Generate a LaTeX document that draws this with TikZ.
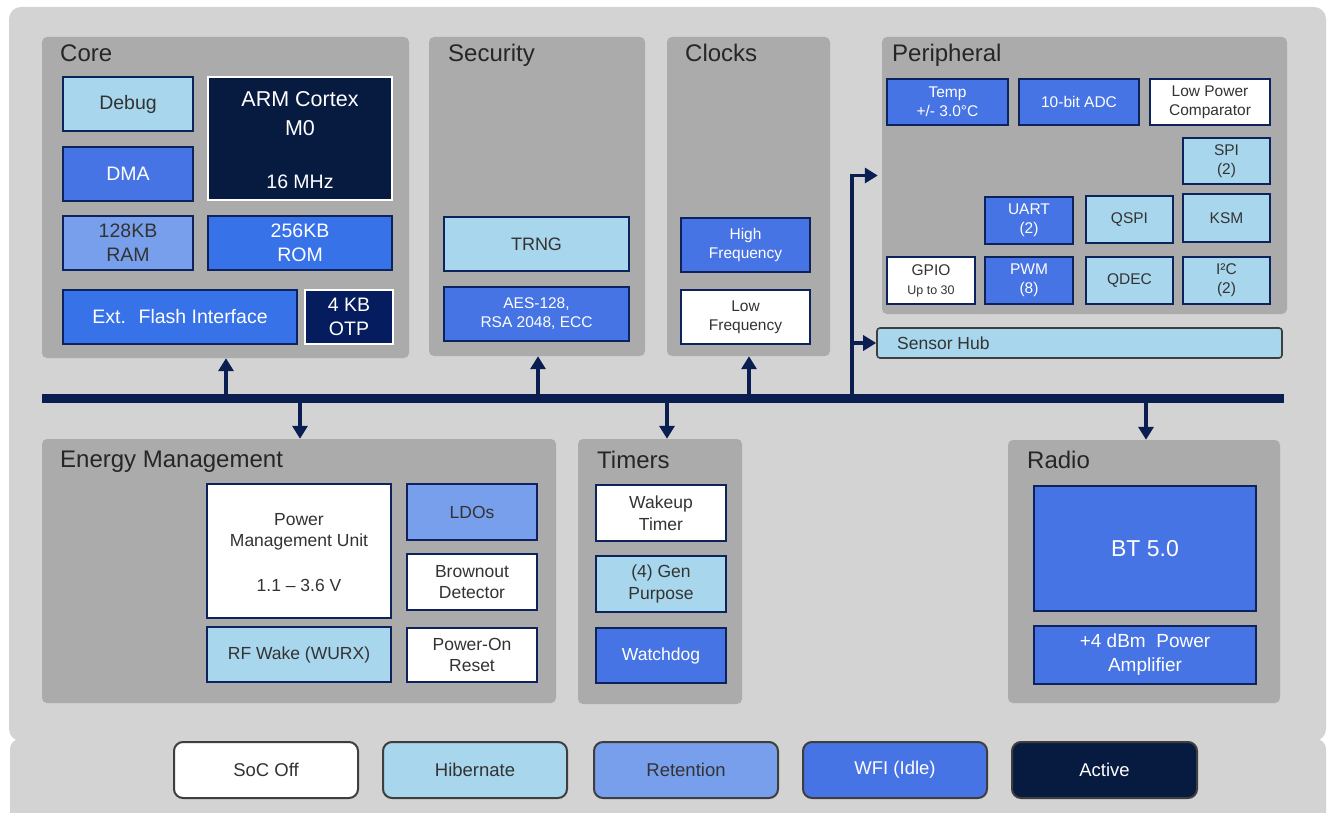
\documentclass[tikz,border=0pt]{standalone}
\usepackage{fontspec}
\setmainfont{Liberation Sans}
\usetikzlibrary{arrows.meta}
\definecolor{bglight}{RGB}{211,211,211}
\definecolor{panelgray}{RGB}{171,171,171}
\definecolor{hib}{RGB}{168,214,236}
\definecolor{ret}{RGB}{120,159,236}
\definecolor{wfi}{RGB}{71,116,228}
\definecolor{rom}{RGB}{56,114,232}
\definecolor{act}{RGB}{7,26,64}
\definecolor{otp}{RGB}{5,28,94}
\definecolor{edge}{RGB}{14,34,92}
\definecolor{busnavy}{RGB}{10,30,82}
\definecolor{legedge}{RGB}{62,62,62}
\definecolor{txtdark}{RGB}{51,51,51}
\definecolor{titletxt}{RGB}{38,38,38}
\newcommand\fA{\fontsize{19.5}{24}\selectfont}
\newcommand\fArm{\fontsize{21.5}{29}\selectfont}
\newcommand\fS{\fontsize{18}{22}\selectfont}
\newcommand\fP{\fontsize{15.5}{19}\selectfont}
\newcommand\fE{\fontsize{17.5}{21.5}\selectfont}
\newcommand\fT{\fontsize{24}{28}\selectfont}
\newcommand\fL{\fontsize{18.5}{22}\selectfont}
\newcommand\blk[7]{\node[#6, minimum width={(#4-#2)*1pt}, minimum height={(#5-#3)*1pt}] (#1) at ({(#2+#4)/2},{(#3+#5)/2}) {#7};}
\tikzset{
 panel/.style={fill=panelgray, rounded corners=5pt, inner sep=0pt},
 bx/.style={draw=edge, line width=1.7pt, inner sep=0pt, align=center, text=txtdark},
 wbx/.style={bx, text=white},
 leg/.style={draw=legedge, line width=2pt, rounded corners=9pt, inner sep=0pt, align=center, font=\fL, text=txtdark},
 conn/.style={draw=busnavy, line width=3.5pt, -{Triangle[width=15pt,length=13pt]}},
 bus/.style={draw=busnavy, line width=9pt},
 ttl/.style={anchor=base west, inner sep=0pt, text=titletxt, font=\fT},
 lbl/.style={inner sep=0pt, align=center},
}
\begin{document}
\begin{tikzpicture}[x=1pt,y=-1pt]
\useasboundingbox (0,0) rectangle (1331,813);
% background
\fill[bglight, rounded corners=12pt] (9,7) rectangle (1326,741);
\fill[bglight, rounded corners=10pt] (10,739) rectangle (1326,835);

% Core
\blk{core}{42}{37}{409}{358}{panel}{}
\node[ttl] (coret) at (60,62) {Core};
\blk{debug}{63}{77}{193}{131}{bx,fill=hib,font=\fA}{Debug}
\blk{arm}{208}{77}{392}{200}{bx,draw=white,line width=2.5pt,fill=act}{}
\node[lbl,font=\fArm,text=white] (armtxt) at (300,114) {ARM Cortex\\M0};
\node[lbl,font=\fA,text=white] (armmhz) at (300,182) {16 MHz};
\blk{dma}{63}{147}{193}{201}{wbx,fill=wfi,font=\fA}{DMA}
\blk{ram}{63}{216}{193}{270}{bx,fill=ret,font=\fA}{128KB\\RAM}
\blk{rom}{208}{216}{392}{270}{wbx,fill=rom,font=\fA}{256KB\\ROM}
\blk{flash}{63}{290}{297}{344}{wbx,fill=rom,font=\fA}{Ext.~ Flash Interface}
\blk{otp}{305}{290}{393}{344}{wbx,draw=white,line width=2.5pt,fill=otp,font=\fA}{4 KB\\OTP}

% Security
\blk{sec}{429}{37}{645}{356}{panel}{}
\node[ttl] (sect) at (448,62) {Security};
\blk{trng}{444}{217}{629}{271}{bx,fill=hib,font=\fS}{TRNG}
\blk{aes}{444}{287}{629}{341}{wbx,fill=wfi,font=\fP}{AES-128,\\RSA 2048, ECC}

% Clocks
\blk{clk}{667}{37}{830}{356}{panel}{}
\node[ttl] (clkt) at (685,62) {Clocks};
\blk{hf}{681}{218}{810}{272}{wbx,fill=wfi,font=\fP}{High\\Frequency}
\blk{lf}{681}{290}{810}{344}{bx,fill=white,font=\fP}{Low\\Frequency}

% Peripheral
\blk{periph}{882}{37}{1287}{314}{panel}{}
\node[ttl] (peripht) at (892,62) {Peripheral};
\blk{temp}{887}{79}{1008}{125}{wbx,fill=wfi,font=\fP}{Temp\\+/- 3.0°C}
\blk{adc}{1019}{79}{1139}{125}{wbx,fill=wfi,font=\fP}{10-bit ADC}
\blk{lpc}{1150}{79}{1270}{125}{bx,fill=white,font=\fP}{Low Power\\Comparator}
\blk{spi}{1183}{138}{1270}{184}{bx,fill=hib,font=\fP}{SPI\\(2)}
\blk{uart}{985}{197}{1073}{244}{wbx,fill=wfi,font=\fP}{UART\\(2)}
\blk{qspi}{1086}{196}{1173}{243}{bx,fill=hib,font=\fP}{QSPI}
\blk{ksm}{1183}{194}{1270}{242}{bx,fill=hib,font=\fP}{KSM}
\blk{gpio}{887}{257}{975}{304}{bx,fill=white,font=\fP}{GPIO\\{\fontsize{12.5}{15}\selectfont Up to 30}}
\blk{pwm}{985}{257}{1073}{304}{wbx,fill=wfi,font=\fP}{PWM\\(8)}
\blk{qdec}{1086}{257}{1173}{304}{bx,fill=hib,font=\fP}{QDEC}
\blk{iic}{1183}{257}{1270}{304}{bx,fill=hib,font=\fP}{I²C\\(2)}

% Sensor hub
\blk{hub}{877}{328}{1282}{358}{draw=legedge,line width=1.6pt,rounded corners=3pt,fill=hib,inner sep=0pt}{}
\node[anchor=base west,inner sep=0pt,font=\fontsize{17.5}{20}\selectfont,text=txtdark] (hubt) at (897,349) {Sensor Hub};

% Energy Management
\blk{energy}{42}{439}{556}{703}{panel}{}
\node[ttl] (energyt) at (60,467) {Energy Management};
\blk{pmu}{207}{484}{391}{618}{bx,fill=white}{}
\node[lbl,font=\fE,text=txtdark] (pmut) at (299,532) {Power\\Management Unit};
\node[lbl,font=\fE,text=txtdark] (pmuv) at (299,585) {1.1 – 3.6 V};
\blk{rfw}{207}{627}{391}{682}{bx,fill=hib,font=\fE}{RF Wake (WURX)}
\blk{ldo}{407}{484}{537}{540}{bx,fill=ret,font=\fE}{LDOs}
\blk{bod}{407}{554}{537}{610}{bx,fill=white,font=\fE}{Brownout\\Detector}
\blk{por}{407}{628}{537}{682}{bx,fill=white,font=\fE}{Power-On\\Reset}

% Timers
\blk{timers}{578}{439}{742}{704}{panel}{}
\node[ttl] (timerst) at (597,468) {Timers};
\blk{wake}{596}{485}{726}{541}{bx,fill=white,font=\fE}{Wakeup\\Timer}
\blk{gen}{596}{556}{726}{612}{bx,fill=hib,font=\fE}{(4) Gen\\Purpose}
\blk{wdog}{596}{628}{726}{683}{wbx,fill=wfi,font=\fE}{Watchdog}

% Radio
\blk{radio}{1008}{440}{1280}{703}{panel}{}
\node[ttl] (radiot) at (1027,468) {Radio};
\blk{bt}{1034}{486}{1256}{611}{wbx,fill=wfi,font=\fontsize{23}{28}\selectfont}{BT 5.0}
\blk{pa}{1034}{626}{1256}{684}{wbx,fill=wfi,font=\fontsize{19}{24}\selectfont}{+4 dBm~ Power\\Amplifier}

% Bus and connectors
\coordinate (busL) at (42,398);
\coordinate (busR) at (1284,398);
\draw[bus] (busL) -- (busR);
\coordinate (u1) at (226,398);
\coordinate (u2) at (538,398);
\coordinate (u3) at (749,398);
\coordinate (u4) at (852,398);
\coordinate (d1) at (300,398);
\coordinate (d2) at (667,398);
\coordinate (d3) at (1146,398);
\draw[conn] (u1) -- (u1 |- core.south);
\draw[conn] (u2) -- (u2 |- sec.south);
\draw[conn] (u3) -- (u3 |- clk.south);
\draw[conn, shorten >=4pt] (u4) |- (periph.west);
\draw[conn] (u4) |- (hub.west);
\draw[conn] (d1) -- (d1 |- energy.north);
\draw[conn] (d2) -- (d2 |- timers.north);
\draw[conn] (d3) -- (d3 |- radio.north);

% Legend
\blk{soff}{174}{742}{358}{798}{leg,fill=white}{SoC Off}
\blk{hiber}{383}{742}{567}{798}{leg,fill=hib}{Hibernate}
\blk{reten}{594}{742}{778}{798}{leg,fill=ret}{Retention}
\blk{idle}{803}{742}{987}{798}{leg,fill=wfi,text=white}{WFI (Idle)}
\blk{active}{1012}{742}{1197}{798}{leg,fill=act,text=white}{Active}
\end{tikzpicture}
\end{document}
